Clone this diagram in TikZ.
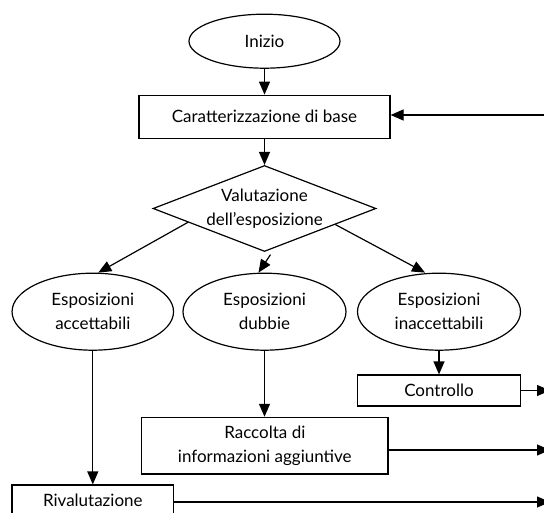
\documentclass[tikz,border=0pt]{standalone}
\usepackage{fontspec}
\setmainfont{Lato}
\usetikzlibrary{shapes.geometric,arrows.meta,calc}
\begin{document}
\begin{tikzpicture}[x=1pt,y=-1pt,
  every node/.style={font=\fontsize{17}{24}\selectfont, align=center, line width=1.2pt},
  ell/.style={draw, ellipse, inner sep=0pt},
  box/.style={draw, rectangle, inner sep=0pt},
  arr/.style={line width=1.2pt, -{Triangle[length=13pt,width=11pt]}}]
\useasboundingbox (0,0) rectangle (544,513);
\clip (0,0) rectangle (544,513);
\node[ell, minimum width=151pt, minimum height=54pt] (start) at (264.5,41.2) {Inizio};
\node[box, minimum width=251pt, minimum height=43pt] (car) at (264.5,116.7) {Caratterizzazione di base};
\node[draw, diamond, aspect=2.59, minimum width=223pt, minimum height=86pt, inner sep=0pt,
  label={center:{Valutazione\\dell’esposizione}}] (dia) at (264.5,208.5) {};
\node[ell, minimum width=161.5pt, minimum height=77pt] (acc) at (92.8,311.7) {Esposizioni\\accettabili};
\node[ell, minimum width=163pt, minimum height=77pt] (dub) at (264.5,311.7) {Esposizioni\\dubbie};
\node[ell, minimum width=163pt, minimum height=77pt] (ina) at (439,311.7) {Esposizioni\\inaccettabili};
\node[box, minimum width=163pt, minimum height=31pt] (ctl) at (439,390.5) {Controllo};
\node[box, minimum width=246.4pt, minimum height=56.7pt] (rac) at (264.8,445.7) {Raccolta di\\informazioni aggiuntive};
\node[box, minimum width=161.5pt, minimum height=31pt] (riv) at (92.8,500.5) {Rivalutazione};
\coordinate (back) at (560,115);
\coordinate (o1) at (550,390.5);
\coordinate (o2) at (550,450);
\coordinate (o3) at (550,502);
\draw[arr] (start) -- (car);
\draw[arr] (car) -- (dia);
\draw[arr] (back) -- (car.east |- back);
\draw[arr] ($(dia.west)!0.317!(dia.south)$) -- ([xshift=5.5pt]acc.north);
\draw[arr] ([xshift=6pt,yshift=-2.5pt]dia.south) -- ([xshift=-6pt]dub.north);
\draw[arr] ($(dia.east)!0.368!(dia.south)$) -- ([xshift=-14pt]ina.north);
\draw[arr] (acc) -- (riv);
\draw[arr] (dub.south) -- (dub.south |- rac.north);
\draw[arr] (ina) -- (ctl);
\draw[arr] (ctl.east |- o1) -- (o1);
\draw[arr] (rac.east |- o2) -- (o2);
\draw[arr] (riv.east |- o3) -- (o3);
\end{tikzpicture}
\end{document}
